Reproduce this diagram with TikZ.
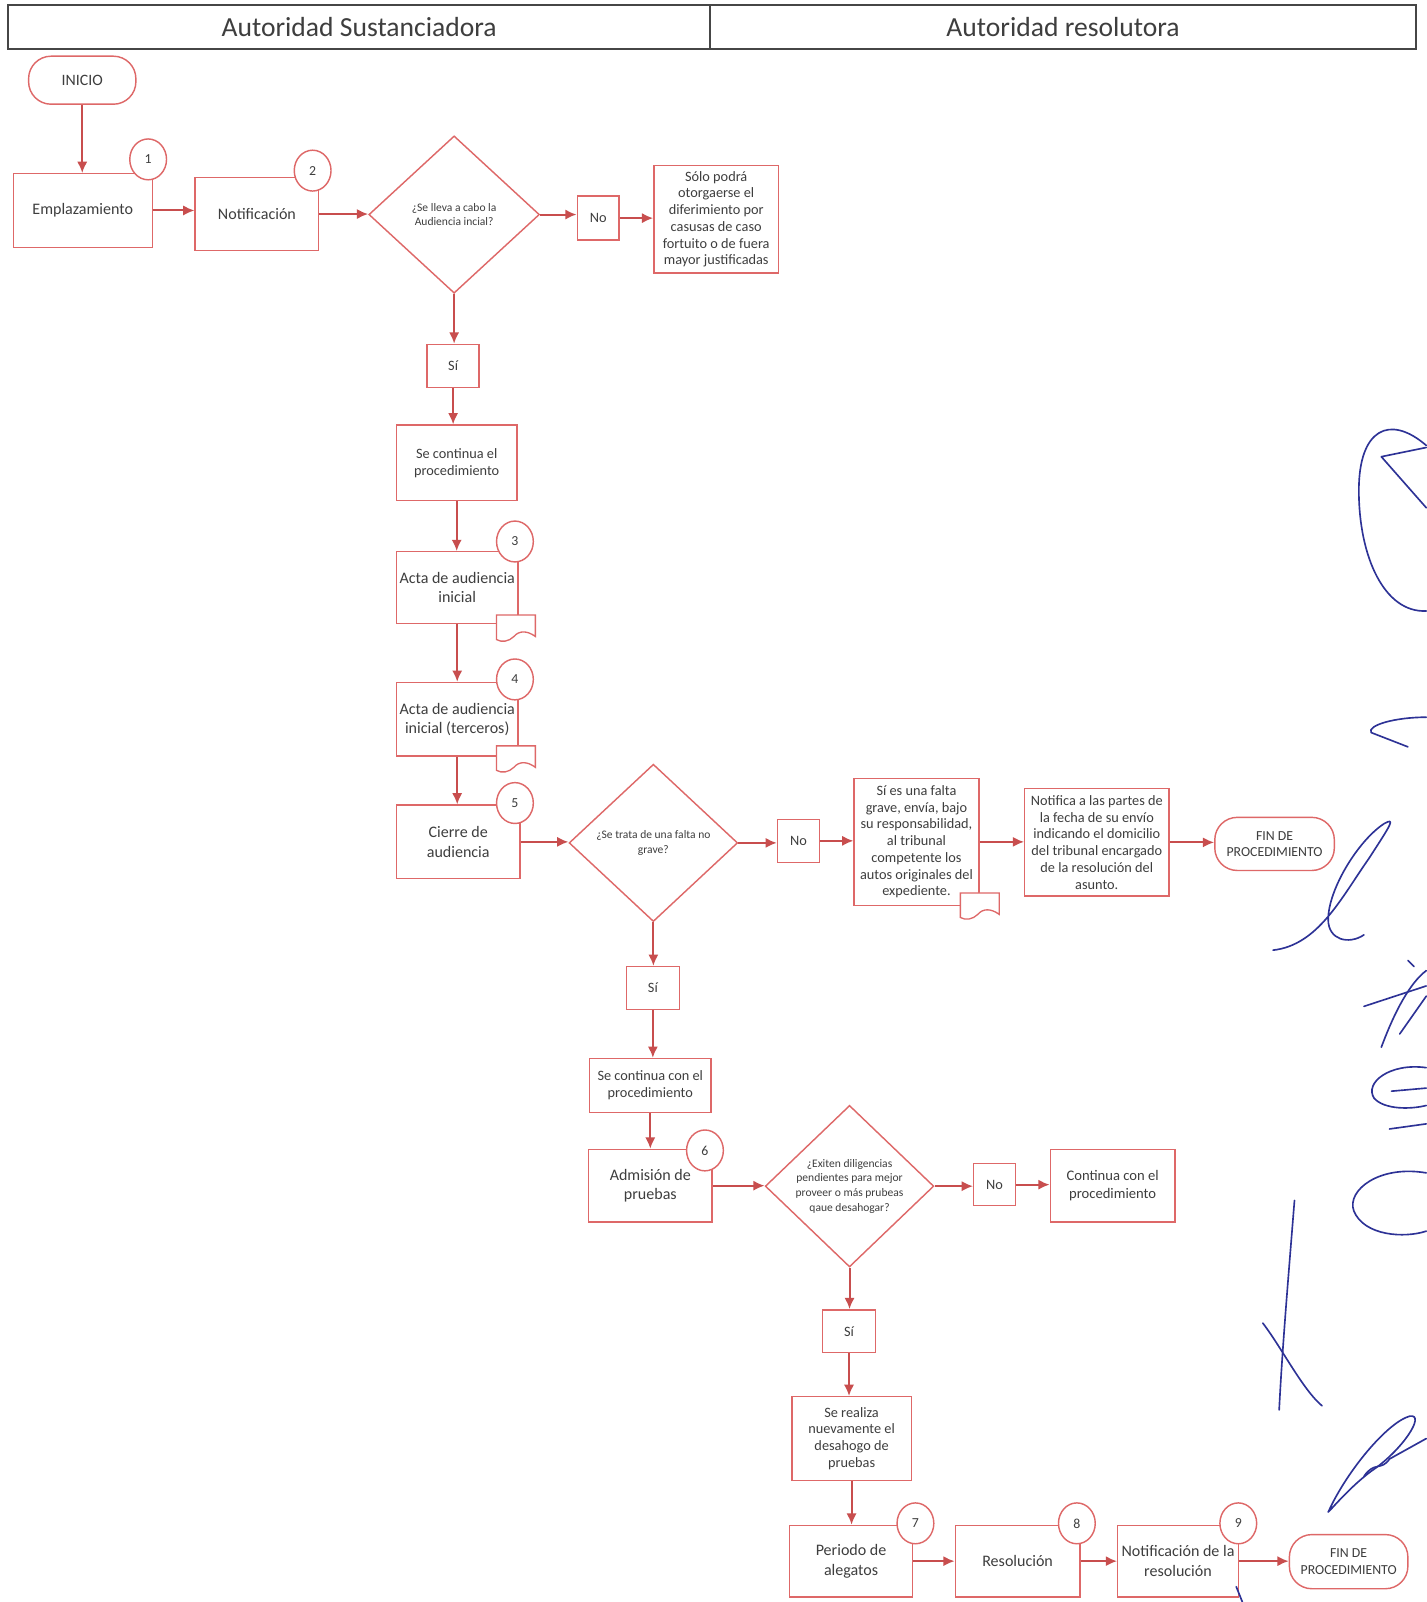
\documentclass[tikz,border=0pt]{standalone}
\usepackage{fontspec}
\setmainfont{Carlito}
\usetikzlibrary{shapes.geometric,arrows.meta}
\definecolor{boxred}{RGB}{222,104,104}
\definecolor{arrred}{RGB}{200,78,78}
\definecolor{txt}{RGB}{62,62,62}
\definecolor{hdrgray}{RGB}{70,70,70}
\definecolor{sigblue}{RGB}{45,50,150}
\tikzset{
  base/.style={draw=boxred, line width=1.4pt, fill=white, text=txt, align=center, inner sep=0pt},
  box/.style={base, rectangle, font=\fontsize{14}{16.4}\selectfont},
  bigbox/.style={base, rectangle, font=\fontsize{15.7}{19}\selectfont},
  term/.style={base, rectangle, rounded corners=22pt, font=\fontsize{13.5}{16}\selectfont},
  dec/.style={base, diamond, font=\fontsize{11.3}{14.3}\selectfont},
  num/.style={base, ellipse, minimum width=36pt, minimum height=40pt, font=\fontsize{13.5}{14}\selectfont},
  arr/.style={draw=arrred, line width=1.9pt, -{Latex[length=11pt,width=10pt]}},
  docsh/.style={draw=boxred, line width=1.3pt, fill=white},
  lane/.style={draw=hdrgray, line width=2pt, rectangle, inner sep=0pt, text=txt, font=\fontsize{27}{30}\selectfont},
  sig/.style={draw=sigblue, line width=1.6pt, line cap=round, line join=round},
  docpic/.pic={\path[docsh] (0,0) -- (38,0) -- (38,21) .. controls (30,15) and (22,15) .. (17,21) .. controls (12,26) and (5,27) .. (0,24) -- cycle;}
}
\begin{document}
\begin{tikzpicture}[x=1pt,y=-1pt]
\useasboundingbox (0,0) rectangle (1396,1568);
\fill[white] (0,0) rectangle (1396,1568);

% lanes
\node[lane, minimum width=687pt, minimum height=43pt] (lane1) at (351.5,26.5) {\raisebox{-2pt}{Autoridad Sustanciadora}};
\node[lane, minimum width=691pt, minimum height=43pt] (lane2) at (1040.5,26.5) {\raisebox{-2pt}{Autoridad resolutora}};

% nodes
\node[term, minimum width=105pt, minimum height=47pt, font=\fontsize{15.5}{17}\selectfont] (inicio) at (80.5,78.5) {INICIO};
\node[bigbox, minimum width=136pt, minimum height=72pt] (empl) at (81,206) {Emplazamiento};
\node[bigbox, minimum width=121pt, minimum height=71pt] (notif) at (251.5,209.5) {Notificación};
\node[dec, minimum width=167pt, minimum height=154pt] (d1) at (444.5,210) {¿Se lleva a cabo la\\Audiencia incial?};
\node[box, minimum width=41pt, minimum height=43pt] (no1) at (585.5,213.5) {No};
\node[box, minimum width=122pt, minimum height=105pt] (solo) at (701,214.5) {Sólo podrá\\otorgaerse el\\diferimiento por\\casusas de caso\\fortuito o de fuera\\mayor justificadas};
\node[box, minimum width=51pt, minimum height=42pt] (si1) at (443.5,358) {Sí};
\node[box, minimum width=118pt, minimum height=74pt] (cont1) at (447,453) {Se continua el\\procedimiento};
\node[bigbox, minimum width=119pt, minimum height=70pt] (acta3) at (447.5,575) {Acta de audiencia\\inicial};
\node[bigbox, minimum width=119pt, minimum height=72pt] (acta4) at (447.5,704) {Acta de audiencia\\inicial (terceros)};
\node[bigbox, minimum width=121pt, minimum height=72pt] (cierre) at (448.5,824) {Cierre de\\audiencia};
\node[dec, minimum width=165pt, minimum height=154pt] (d2) at (639.5,825) {¿Se trata de una falta no\\grave?};
\node[box, minimum width=41pt, minimum height=42pt] (no2) at (781.5,823) {No};
\node[box, minimum width=122pt, minimum height=124pt] (sies) at (897,824) {Sí es una falta\\grave, envía, bajo\\su responsabilidad,\\al tribunal\\competente los\\autos originales del\\expediente.};
\node[box, minimum width=141pt, minimum height=105pt] (notifica) at (1073.5,824.5) {Notifica a las partes de\\la fecha de su envío\\indicando el domicilio\\del tribunal encargado\\de la resolución del\\asunto.};
\node[term, minimum width=117pt, minimum height=52pt] (fin1) at (1247.5,826) {FIN DE\\PROCEDIMIENTO};
\node[box, minimum width=52pt, minimum height=42pt] (si2) at (639,967) {Sí};
\node[box, minimum width=119pt, minimum height=53pt] (cont2) at (636.5,1062.5) {Se continua con el\\procedimiento};
\node[bigbox, minimum width=121pt, minimum height=71pt] (admis) at (636.5,1160.5) {Admisión de\\pruebas};
\node[dec, minimum width=165pt, minimum height=154pt] (d3) at (831.5,1161) {¿Exiten diligencias\\pendientes para mejor\\proveer o más prubeas\\qaue desahogar?};
\node[box, minimum width=41pt, minimum height=41pt] (no3) at (973.5,1159.5) {No};
\node[box, minimum width=122pt, minimum height=71pt, font=\fontsize{14.3}{17}\selectfont] (continua) at (1089,1160.5) {Continua con el\\procedimiento};
\node[box, minimum width=52pt, minimum height=42pt] (si3) at (831,1303) {Sí};
\node[box, minimum width=117pt, minimum height=82pt] (realiza) at (833.5,1408) {Se realiza\\nuevamente el\\desahogo de\\pruebas};
\node[bigbox, minimum width=120pt, minimum height=70pt] (periodo) at (833,1528) {Periodo de\\alegatos};
\node[bigbox, minimum width=122pt, minimum height=70pt] (resol) at (996,1528) {Resolución};
\node[bigbox, minimum width=118pt, minimum height=70pt] (notres) at (1153,1528) {Notificación de la\\resolución};
\node[term, minimum width=116pt, minimum height=53pt] (fin2) at (1320,1528.5) {FIN DE\\PROCEDIMIENTO};

% connectors
\draw[arr] (inicio.south) -- (inicio.south |- empl.north);
\draw[arr] (empl.east) -- (empl.east -| notif.west);
\draw[arr] (notif.east) -- (notif.east -| d1.west);
\draw[arr] (d1.east) -- (d1.east -| no1.west);
\draw[arr] (no1.east) -- (no1.east -| solo.west);
\draw[arr] (d1.south) -- (d1.south |- si1.north);
\draw[arr] (si1.south) -- (si1.south |- cont1.north);
\draw[arr] (cont1.south) -- (cont1.south |- acta3.north);
\draw[arr] (acta3.south) -- (acta3.south |- acta4.north);
\draw[arr] (acta4.south) -- (acta4.south |- cierre.north);
\draw[arr] (cierre.east) -- (cierre.east -| d2.west);
\draw[arr] (d2.east) -- (d2.east -| no2.west);
\draw[arr] (no2.east) -- (no2.east -| sies.west);
\draw[arr] (sies.east) -- (sies.east -| notifica.west);
\draw[arr] (notifica.east) -- (notifica.east -| fin1.west);
\draw[arr] (d2.south) -- (d2.south |- si2.north);
\draw[arr] (si2.south) -- (si2.south |- cont2.north);
\draw[arr] (cont2.south) -- (cont2.south |- admis.north);
\draw[arr] (admis.east) -- (admis.east -| d3.west);
\draw[arr] (d3.east) -- (d3.east -| no3.west);
\draw[arr] (no3.east) -- (no3.east -| continua.west);
\draw[arr] (d3.south) -- (d3.south |- si3.north);
\draw[arr] (si3.south) -- (si3.south |- realiza.north);
\draw[arr] (realiza.south) -- (realiza.south |- periodo.north);
\draw[arr] (periodo.east) -- (periodo.east -| resol.west);
\draw[arr] (resol.east) -- (resol.east -| notres.west);
\draw[arr] (notres.east) -- (notres.east -| fin2.west);

% number circles
\node[num] (c1) at (145,156) {1};
\node[num] (c2) at (306,167) {2};
\node[num] (c3) at (504,530) {3};
\node[num] (c4) at (504,665) {4};
\node[num] (c5) at (504,786) {5};
\node[num] (c6) at (690,1126) {6};
\node[num] (c7) at (896,1491) {7};
\node[num] (c8) at (1054,1491) {8};
\node[num] (c9) at (1212,1491) {9};

% document marks
\pic at (486,602) {docpic};
\pic at (486,730) {docpic};
\pic at (940,874) {docpic};

% signatures
\draw[sig] (1396,436) .. controls (1360,405) and (1330,420) .. (1330,480) .. controls (1330,545) and (1355,600) .. (1396,598);
\draw[sig] (1396,438) -- (1352,447) -- (1396,497);
\draw[sig] (1396,702) .. controls (1365,702) and (1338,710) .. (1342,717) -- (1378,731);
\draw[sig] (1246,930) .. controls (1290,925) and (1312,880) .. (1340,840) .. controls (1362,806) and (1366,800) .. (1355,806) .. controls (1330,822) and (1300,870) .. (1300,900) .. controls (1300,920) and (1320,925) .. (1335,915);
\draw[sig] (1335,985) -- (1396,965);
\draw[sig] (1352,1025) .. controls (1365,990) and (1380,962) .. (1396,950);
\draw[sig] (1370,1012) -- (1396,975);
\draw[sig] (1378,940) -- (1384,946);
\draw[sig] (1396,1045) .. controls (1360,1040) and (1335,1060) .. (1345,1075) .. controls (1355,1086) and (1380,1086) .. (1396,1082);
\draw[sig] (1362,1068) -- (1396,1065);
\draw[sig] (1360,1105) -- (1396,1100);
\draw[sig] (1396,1148) .. controls (1350,1140) and (1318,1165) .. (1325,1185) .. controls (1335,1210) and (1375,1212) .. (1396,1205);
\draw[sig] (1267,1175) .. controls (1261,1250) and (1255,1320) .. (1252,1380);
\draw[sig] (1236,1295) .. controls (1255,1320) and (1275,1360) .. (1294,1376);
\draw[sig] (1300,1480) .. controls (1318,1440) and (1358,1392) .. (1380,1386) .. controls (1396,1384) and (1372,1420) .. (1342,1440) .. controls (1322,1455) and (1306,1474) .. (1300,1480);
\draw[sig] (1335,1445) .. controls (1345,1430) and (1352,1440) .. (1360,1428) -- (1396,1408);
\draw[sig] (1210,1553) -- (1216,1568);
\end{tikzpicture}
\end{document}
